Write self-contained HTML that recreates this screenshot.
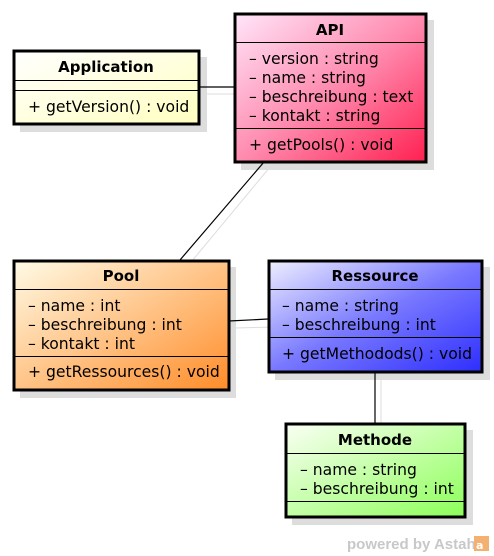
<!DOCTYPE html>
<html><head><meta charset="utf-8"><style>
html,body{margin:0;padding:0;background:#fff;width:494px;height:556px;overflow:hidden}
svg{display:block}
text{font-family:"DejaVu Sans","Liberation Sans",sans-serif;font-size:15.6px;fill:#000}
.t{font-weight:bold;text-anchor:middle;font-size:15px}
</style></head><body>
<svg width="494" height="556" viewBox="0 0 494 556">
<defs>
<linearGradient id="gA" x1="0" y1="0" x2="1" y2="1"><stop offset="0" stop-color="#ffffff"/><stop offset="1" stop-color="#ffffc0"/></linearGradient>
<linearGradient id="gB" x1="0" y1="0" x2="1" y2="1"><stop offset="0" stop-color="#ffe6fa"/><stop offset="0.5" stop-color="#ff8cb0"/><stop offset="1" stop-color="#ff2050"/></linearGradient>
<linearGradient id="gC" x1="0" y1="0" x2="1" y2="1"><stop offset="0" stop-color="#fffbe6"/><stop offset="1" stop-color="#ff8c28"/></linearGradient>
<linearGradient id="gD" x1="0" y1="0" x2="1" y2="1"><stop offset="0" stop-color="#eeeeff"/><stop offset="0.5" stop-color="#7878ff"/><stop offset="1" stop-color="#2e2eff"/></linearGradient>
<linearGradient id="gE" x1="0" y1="0" x2="1" y2="1"><stop offset="0" stop-color="#fafff4"/><stop offset="1" stop-color="#8cff58"/></linearGradient>
</defs>
<g fill="#dddddd">
<rect x="20" y="57" width="187" height="75"/>
<rect x="241" y="20" width="193" height="150"/>
<rect x="20" y="267" width="216" height="131"/>
<rect x="275" y="267" width="215" height="113"/>
<rect x="292" y="430" width="181" height="95"/>
</g>
<g stroke="#dddddd" stroke-width="1">
<line x1="205" y1="94" x2="241" y2="94"/>
<line x1="270" y1="167" x2="187" y2="267"/>
<line x1="235" y1="328" x2="275" y2="327"/>
<line x1="381" y1="378" x2="381" y2="430"/>
</g>
<g stroke="#000" stroke-width="1.2">
<line x1="199" y1="87" x2="234" y2="87"/>
<line x1="264" y1="162" x2="180" y2="260"/>
<line x1="229" y1="321" x2="268" y2="319"/>
<line x1="375" y1="372" x2="375" y2="423"/>
</g>
<rect x="14" y="51" width="185" height="73" fill="url(#gA)" stroke="#000" stroke-width="3"/>
<line x1="14" y1="80.5" x2="199" y2="80.5" stroke="#000"/>
<line x1="14" y1="90.5" x2="199" y2="90.5" stroke="#000"/>
<text class="t" x="106" y="72">Application</text>
<text x="28" y="112">+ getVersion() : void</text>
<rect x="235" y="14" width="191" height="148" fill="url(#gB)" stroke="#000" stroke-width="3"/>
<line x1="235" y1="42.5" x2="426" y2="42.5" stroke="#000"/>
<line x1="235" y1="128.5" x2="426" y2="128.5" stroke="#000"/>
<text class="t" x="330" y="35">API</text>
<text x="249" y="64">– version : string</text>
<text x="249" y="83">– name : string</text>
<text x="249" y="102">– beschreibung : text</text>
<text x="249" y="121">– kontakt : string</text>
<text x="249" y="150">+ getPools() : void</text>
<rect x="14" y="261" width="215" height="129" fill="url(#gC)" stroke="#000" stroke-width="3"/>
<line x1="14" y1="289.5" x2="229" y2="289.5" stroke="#000"/>
<line x1="14" y1="356.5" x2="229" y2="356.5" stroke="#000"/>
<text class="t" x="121" y="281">Pool</text>
<text x="28" y="311">– name : int</text>
<text x="28" y="330">– beschreibung : int</text>
<text x="28" y="349">– kontakt : int</text>
<text x="28" y="377">+ getRessources() : void</text>
<rect x="269" y="261" width="213" height="111" fill="url(#gD)" stroke="#000" stroke-width="3"/>
<line x1="269" y1="289.5" x2="482" y2="289.5" stroke="#000"/>
<line x1="269" y1="337.5" x2="482" y2="337.5" stroke="#000"/>
<text class="t" x="375" y="281">Ressource</text>
<text x="282" y="311">– name : string</text>
<text x="282" y="330">– beschreibung : int</text>
<text x="282" y="359">+ getMethodods() : void</text>
<rect x="286" y="424" width="179" height="93" fill="url(#gE)" stroke="#000" stroke-width="3"/>
<line x1="286" y1="453.5" x2="465" y2="453.5" stroke="#000"/>
<line x1="286" y1="501.5" x2="465" y2="501.5" stroke="#000"/>
<text class="t" x="375" y="445">Methode</text>
<text x="300" y="475">– name : string</text>
<text x="300" y="494">– beschreibung : int</text>
<text x="347" y="549" style="font-family:'Liberation Sans',sans-serif;font-size:15px;font-weight:bold;fill:#c8c8c8">powered by Astah</text>
<rect x="474" y="536" width="15" height="15" fill="#f4b070"/>
<text x="476" y="549" style="font-size:11px;fill:#fff;font-weight:bold">a</text>
</svg>
</body></html>
